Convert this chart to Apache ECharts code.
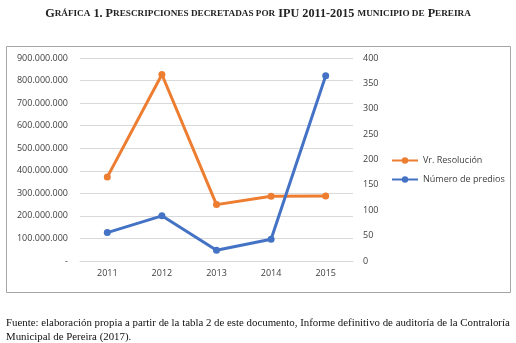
<!DOCTYPE html>
<html>
<head>
<meta charset="utf-8">
<script src="https://cdn.jsdelivr.net/npm/echarts@6/dist/echarts.min.js"></script>
<style>
  html, body { margin: 0; padding: 0; background: #fff; }
  #chart { width: 516px; height: 343px; }
</style>
</head>
<body>
<div id="chart"></div>
<script>
// Years on the category axis
const years = ['2011', '2012', '2013', '2014', '2015'];
// Value of the resolutions (pesos), left axis
const valorResolucion = [372000000, 827000000, 250000000, 287000000, 288000000];
// Number of properties, right axis
const numeroPredios = [56, 89, 21, 43, 365];

const labelFont = '"Open Sans", "Liberation Sans", sans-serif';
const serif = '"Liberation Serif", "DejaVu Serif", serif';

function miles(v) {
  if (v === 0) return '-';
  return String(Math.round(v)).replace(/\B(?=(\d{3})+(?!\d))/g, '.');
}

const chart = echarts.init(document.getElementById('chart'), null, { renderer: 'canvas' });

const big = { fontFamily: serif, fontWeight: 'bold', fontSize: 12.2, color: '#222' };
const small = { fontFamily: serif, fontWeight: 'bold', fontSize: 9.2, color: '#222' };

chart.setOption({
  animation: false,
  title: {
    left: 'center',
    top: 3,
    text: '{b|G}{s|RÁFICA}{b| 1. P}{s|RESCRIPCIONES DECRETADAS POR}{b| IPU 2011-2015 }{s|MUNICIPIO DE}{b| P}{s|EREIRA}',
    textStyle: { rich: { b: big, s: small } }
  },
  graphic: [
    {
      type: 'rect',
      shape: { x: 6.5, y: 46.5, width: 504, height: 246 },
      style: { fill: null, stroke: '#a6a6a6', lineWidth: 1 },
      silent: true
    },
    {
      type: 'text',
      left: 6,
      top: 316,
      style: {
        text: 'Fuente: elaboración propia a partir de la tabla 2 de este documento, Informe definitivo de auditoría de la Contraloría\nMunicipal de Pereira (2017).',
        font: '10.85px ' + serif,
        fill: '#111',
        lineHeight: 14
      }
    }
  ],
  legend: {
    orient: 'vertical',
    left: 386,
    top: 151,
    itemWidth: 26,
    itemHeight: 8,
    itemGap: 10,
    textStyle: { fontFamily: labelFont, fontSize: 9, color: '#404040' },
    data: ['Vr. Resolución', 'Número de predios']
  },
  grid: { left: 80, right: 163, top: 58, bottom: 82, containLabel: false },
  xAxis: {
    type: 'category',
    data: years,
    boundaryGap: true,
    axisLine: { show: true, lineStyle: { color: '#d9d9d9' } },
    axisTick: { show: false },
    axisLabel: { fontFamily: labelFont, fontSize: 9, color: '#404040', margin: 8 }
  },
  yAxis: [
    {
      type: 'value',
      min: 0,
      max: 900000000,
      interval: 100000000,
      axisLine: { show: false },
      axisTick: { show: false },
      splitLine: { lineStyle: { color: '#d9d9d9' } },
      axisLabel: { fontFamily: labelFont, fontSize: 9, color: '#404040', margin: 12, formatter: miles }
    },
    {
      type: 'value',
      min: 0,
      max: 400,
      interval: 50,
      position: 'right',
      axisLine: { show: false },
      axisTick: { show: false },
      splitLine: { show: false },
      axisLabel: { fontFamily: labelFont, fontSize: 9, color: '#404040', margin: 10 }
    }
  ],
  series: [
    {
      name: 'Vr. Resolución',
      type: 'line',
      data: valorResolucion,
      yAxisIndex: 0,
      symbol: 'circle',
      symbolSize: 7,
      lineStyle: { width: 3, color: '#ED7D31' },
      itemStyle: { color: '#ED7D31' }
    },
    {
      name: 'Número de predios',
      type: 'line',
      data: numeroPredios,
      yAxisIndex: 1,
      symbol: 'circle',
      symbolSize: 7,
      lineStyle: { width: 3, color: '#4472C4' },
      itemStyle: { color: '#4472C4' }
    }
  ]
});
</script>
</body>
</html>
